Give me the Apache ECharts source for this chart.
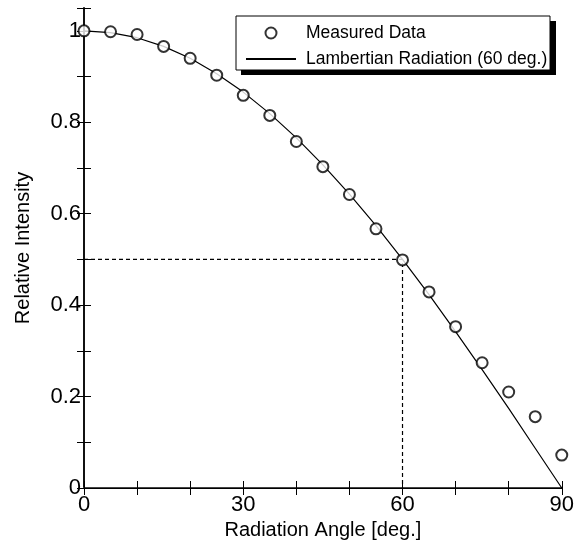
<!DOCTYPE html>
<html>
<head>
<meta charset="utf-8">
<script src="https://cdn.jsdelivr.net/npm/echarts@6/dist/echarts.min.js"></script>
<style>
  html, body { margin: 0; padding: 0; background: #fff; }
  #chart { width: 577px; height: 554px; }
</style>
</head>
<body>
<div id="chart"></div>
<script>
// 角度 (deg)
var angles = [0, 5, 10, 15, 20, 25, 30, 35, 40, 45, 50, 55, 60, 65, 70, 75, 80, 85, 90];
// 测量值
var measured = [1.0, 0.998, 0.992, 0.966, 0.94, 0.903, 0.859, 0.815, 0.758, 0.703, 0.642, 0.567, 0.499, 0.429, 0.353, 0.274, 0.21, 0.156, 0.072];
// 曲线 (60 deg.)
var lambert = [1.0, 0.996, 0.985, 0.966, 0.94, 0.906, 0.866, 0.819, 0.766, 0.707, 0.643, 0.574, 0.5, 0.423, 0.342, 0.259, 0.174, 0.087, 0];
// 虚线
var guideX = [0, 60, 60];
var guideY = [0.5, 0.5, 0];

var font = 'Liberation Sans, Arial, sans-serif';

function pairs(xs, ys) {
    var out = [];
    for (var i = 0; i < xs.length; i++) {
        out.push([xs[i], ys[i]]);
    }
    return out;
}

var chart = echarts.init(document.getElementById('chart'));

var option = {
    animation: false,
    backgroundColor: '#fff',
    grid: { left: 84, right: 13, top: 8, bottom: 66 },
    graphic: [
        { type: 'rect', z: 10, shape: { x: 241, y: 21, width: 315, height: 54 }, style: { fill: '#000' } },
        { type: 'rect', z: 11, shape: { x: 236, y: 16, width: 314, height: 54 }, style: { fill: '#fff', stroke: '#000', lineWidth: 1 } }
    ],
    legend: {
        z: 20,
        orient: 'vertical',
        left: 240,
        top: 19,
        padding: 5,
        itemWidth: 50,
        itemHeight: 11,
        itemGap: 8,
        data: [
            { name: 'Measured Data' },
            { name: 'Lambertian Radiation (60 deg.)', itemStyle: { opacity: 0 } }
        ],
        textStyle: { fontFamily: font, fontSize: 17.5, color: '#000', padding: [0, 0, 0, 5] }
    },
    xAxis: [
        {
            type: 'value', min: 0, max: 90, interval: 10,
            name: 'Radiation Angle [deg.]', nameLocation: 'middle', nameGap: 32,
            nameTextStyle: { fontFamily: font, fontSize: 20, color: '#000' },
            axisLine: { lineStyle: { color: '#444', width: 2 } },
            axisTick: { inside: true, length: 7, lineStyle: { color: '#000', width: 1 } },
            axisLabel: {
                margin: 6, fontFamily: font, fontSize: 22, color: '#000',
                formatter: function (v) { return v % 30 === 0 ? String(v) : ''; }
            },
            splitLine: { show: false }
        },
        {
            type: 'value', position: 'top', min: 0, max: 90, interval: 10,
            axisLine: { lineStyle: { color: '#000', width: 1 } },
            axisTick: { inside: true, length: 7, lineStyle: { color: '#000', width: 1 } },
            axisLabel: { show: false },
            splitLine: { show: false }
        }
    ],
    yAxis: [
        {
            type: 'value', min: 0, max: 1.05, interval: 0.1,
            name: 'Relative Intensity', nameLocation: 'middle', nameGap: 51,
            nameTextStyle: { fontFamily: font, fontSize: 20, color: '#000' },
            axisLine: { lineStyle: { color: '#444', width: 2 } },
            axisTick: { inside: true, length: 7, lineStyle: { color: '#000', width: 1 } },
            axisLabel: {
                margin: 3, fontFamily: font, fontSize: 22, color: '#000',
                formatter: function (v) {
                    var k = v * 5;
                    if (Math.abs(k - Math.round(k)) > 1e-6) return '';
                    return String(+v.toFixed(1));
                }
            },
            splitLine: { show: false }
        },
        {
            type: 'value', position: 'right', min: 0, max: 1.05, interval: 0.1,
            axisLine: { lineStyle: { color: '#000', width: 1.5 } },
            axisTick: { inside: true, length: 7, lineStyle: { color: '#000', width: 1 } },
            axisLabel: { show: false },
            splitLine: { show: false }
        }
    ],
    series: [
        {
            name: 'guide',
            type: 'line',
            data: pairs(guideX, guideY),
            symbol: 'none',
            silent: true,
            lineStyle: { color: '#000', width: 1.2, type: [4, 3] },
            z: 2
        },
        {
            name: 'Lambertian Radiation (60 deg.)',
            type: 'line',
            data: pairs(angles, lambert),
            symbol: 'none',
            lineStyle: { color: '#000', width: 1.2 },
            itemStyle: { color: '#000' },
            z: 3
        },
        {
            name: 'Measured Data',
            type: 'scatter',
            data: pairs(angles, measured),
            symbol: 'emptyCircle',
            symbolSize: 11,
            itemStyle: { color: '#000', borderColor: '#000', borderWidth: 1.2 },
            z: 4
        }
    ]
};

chart.setOption(option, true);
</script>
</body>
</html>
